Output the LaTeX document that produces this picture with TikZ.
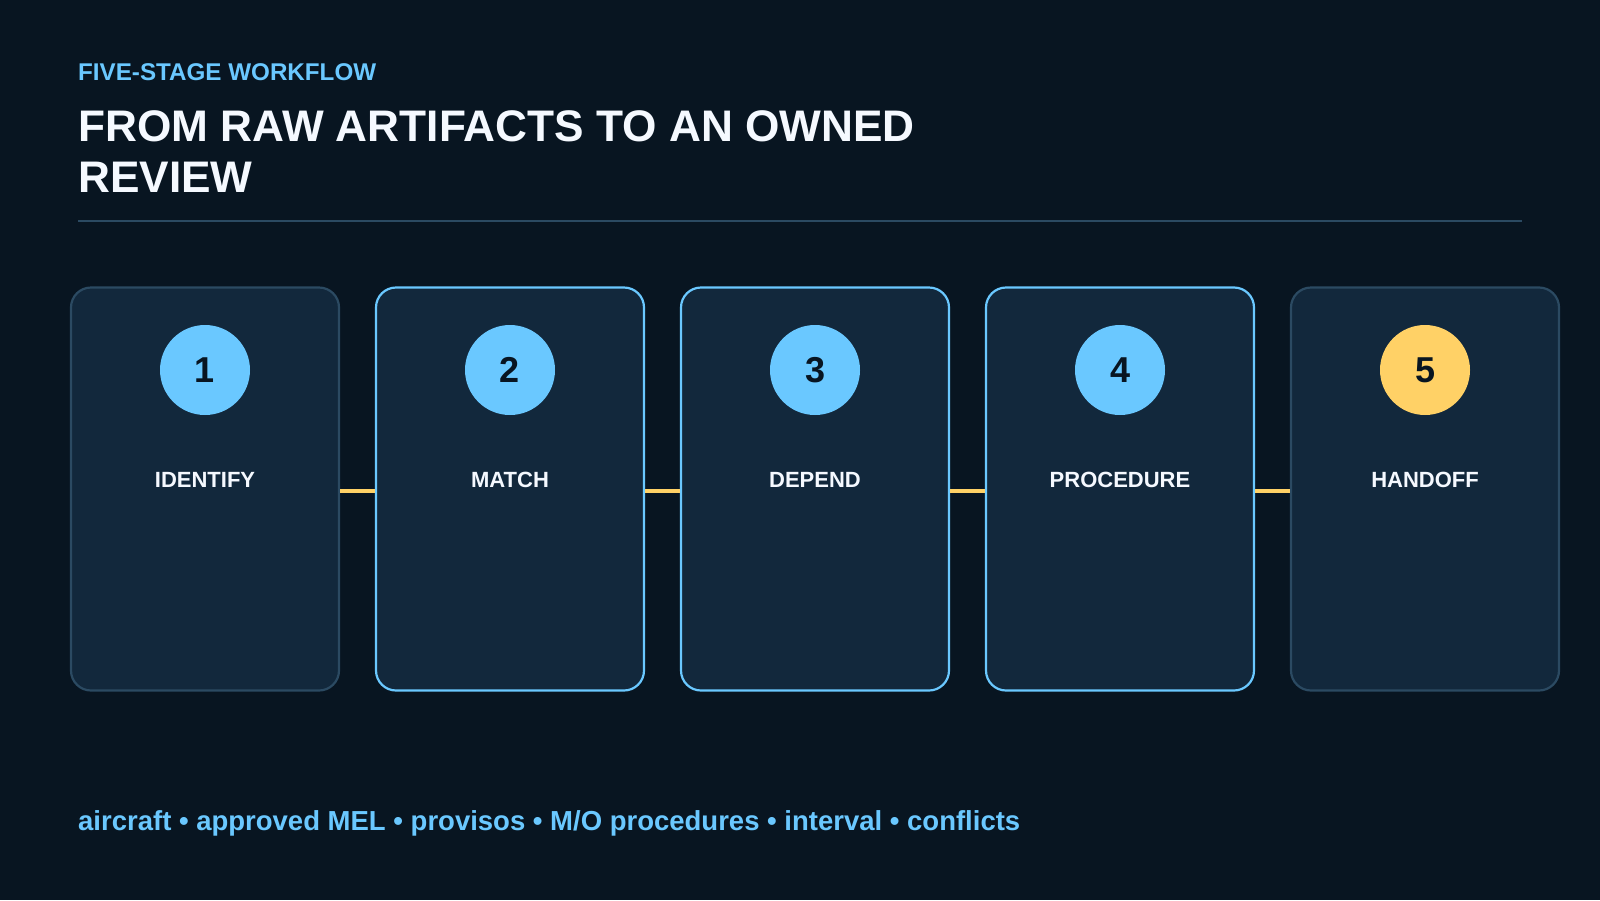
\documentclass[tikz,border=0pt]{standalone}
\usepackage{fontspec}
\setmainfont{Liberation Sans}
\usetikzlibrary{positioning}

\definecolor{bgnavy}{HTML}{081521}
\definecolor{cardfill}{HTML}{12283C}
\definecolor{cardedge}{HTML}{2B4A62}
\definecolor{skyblue}{HTML}{6AC8FF}
\definecolor{gold}{HTML}{FFD166}
\definecolor{titlewhite}{HTML}{F5F9FF}

\begin{document}
\begin{tikzpicture}[x=1pt,y=-1pt,
    stage/.style={draw=cardedge,fill=cardfill,line width=2.2pt,rounded corners=20pt,
      minimum width=268pt,minimum height=403pt,inner sep=0pt},
    active/.style={stage,draw=skyblue},
    badge/.style={circle,fill=skyblue,minimum size=90pt,inner sep=0pt,text=bgnavy,
      font=\fontsize{36}{36}\selectfont\bfseries},
    stagename/.style={text=titlewhite,font=\fontsize{22}{22}\selectfont\bfseries},
    link/.style={draw=gold,line width=4pt}]
  \fill[bgnavy] (0,0) rectangle (1600,900);
  \useasboundingbox (0,0) rectangle (1600,900);

  % header
  \node[anchor=base west,inner sep=0pt,text=skyblue,font=\fontsize{24.2}{24}\selectfont\bfseries]
    (kicker) at (78,80) {FIVE-STAGE WORKFLOW};
  \node[anchor=north west,inner sep=0pt,align=left,text=titlewhite,
    font=\fontsize{44.2}{50.5}\selectfont\bfseries]
    (title) at (78,110.5) {FROM RAW ARTIFACTS TO AN OWNED\\REVIEW};
  \coordinate (ruleL) at (78,221);
  \coordinate (ruleR) at (1522,221);
  \draw[cardedge,line width=1.5pt] (ruleL) -- (ruleR);

  % stage cards
  \node[stage]  (c1) at (205,489) {};
  \node[active] (c2) at (510,489) {};
  \node[active] (c3) at (815,489) {};
  \node[active] (c4) at (1120,489) {};
  \node[stage]  (c5) at (1425,489) {};

  \node[badge] (n1) at (205,370) {1};
  \node[badge] (n2) at (510,370) {2};
  \node[badge] (n3) at (815,370) {3};
  \node[badge] (n4) at (1120,370) {4};
  \node[badge,fill=gold] (n5) at (1425,370) {5};

  \node[stagename] (s1) at (205,480) {IDENTIFY};
  \node[stagename] (s2) at (510,480) {MATCH};
  \node[stagename] (s3) at (815,480) {DEPEND};
  \node[stagename] (s4) at (1120,480) {PROCEDURE};
  \node[stagename] (s5) at (1425,480) {HANDOFF};

  \begin{scope}[link]
    \draw ([yshift=-2pt]c1.east) -- ([yshift=-2pt]c2.west);
    \draw ([yshift=-2pt]c2.east) -- ([yshift=-2pt]c3.west);
    \draw ([yshift=-2pt]c3.east) -- ([yshift=-2pt]c4.west);
    \draw ([yshift=-2pt]c4.east) -- ([yshift=-2pt]c5.west);
  \end{scope}

  % footer
  \node[anchor=base west,inner sep=0pt,text=skyblue,font=\fontsize{27.5}{28}\selectfont\bfseries]
    (inputs) at (78,830) {aircraft • approved MEL • provisos • M/O procedures • interval • conflicts};
\end{tikzpicture}
\end{document}
